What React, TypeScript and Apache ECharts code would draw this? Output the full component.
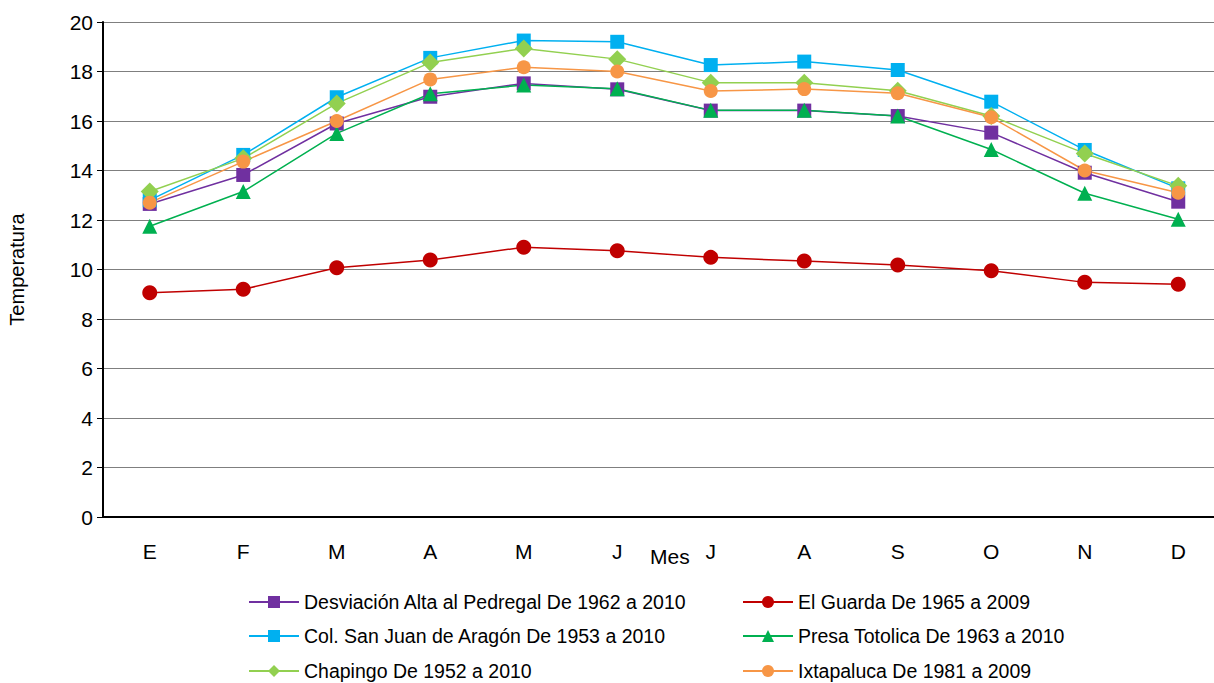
import React, { useEffect, useRef } from "react";
import * as echarts from "echarts";

const months = ["E", "F", "M", "A", "M", "J", "J", "A", "S", "O", "N", "D"];
const yTicks = [0, 2, 4, 6, 8, 10, 12, 14, 16, 18, 20];

const desviacion = [12.65, 13.82, 15.9, 16.98, 17.52, 17.28, 16.42, 16.42, 16.2, 15.53, 13.91, 12.74];
const elGuarda = [9.06, 9.2, 10.07, 10.38, 10.9, 10.76, 10.49, 10.34, 10.18, 9.95, 9.48, 9.4];
const sanJuan = [12.8, 14.63, 16.96, 18.55, 19.25, 19.2, 18.26, 18.4, 18.06, 16.78, 14.83, 13.28];
const presa = [11.75, 13.15, 15.5, 17.1, 17.45, 17.3, 16.43, 16.43, 16.2, 14.85, 13.08, 12.03];
const chapingo = [13.15, 14.49, 16.71, 18.36, 18.93, 18.5, 17.55, 17.55, 17.22, 16.2, 14.69, 13.38];
const ixtapaluca = [12.7, 14.36, 16.0, 17.68, 18.17, 18.0, 17.21, 17.29, 17.12, 16.15, 14.0, 13.1];

const names = [
  "Desviación Alta al Pedregal De 1962 a 2010",
  "El Guarda De 1965 a 2009",
  "Col. San Juan de Aragón De 1953 a 2010",
  "Presa Totolica De 1963 a 2010",
  "Chapingo De 1952 a 2010",
  "Ixtapaluca De 1981 a 2009",
];

const FONT = "'Liberation Sans', Arial, sans-serif";

export default function App() {
  const ref = useRef<HTMLDivElement>(null);
  useEffect(() => {
    if (!ref.current) return;
    const chart = echarts.init(ref.current, undefined, { renderer: "svg" });
    const mk = (name: string, data: number[], color: string, symbol: string, size: number) => ({
      name,
      type: "line",
      data,
      symbol,
      symbolSize: size,
      showAllSymbol: true,
      lineStyle: { color, width: 1.5 },
      itemStyle: { color },
      emphasis: { disabled: true },
    });
    const legendPos = [
      [248, 592],
      [742, 592],
      [248, 626],
      [742, 626],
      [248, 661],
      [742, 661],
    ];
    const legends = names.map((n, i) => ({
      orient: "horizontal",
      left: legendPos[i][0],
      top: legendPos[i][1],
      padding: 0,
      itemWidth: 50,
      itemHeight: 15,
      itemGap: 6,
      textStyle: { fontSize: 19.5, color: "#000", fontFamily: FONT },
      data: [n],
    }));
    chart.setOption({
      animation: false,
      textStyle: { fontFamily: FONT },
      grid: {
        left: 103,
        top: 22,
        width: 1122,
        height: 495,
        containLabel: false,
        outerBoundsMode: "none",
      },
      legend: legends,
      graphic: [
        {
          type: "text",
          left: 650,
          top: 546,
          style: { text: "Mes", fontSize: 21, fill: "#000", fontFamily: FONT },
        },
      ],
      xAxis: {
        type: "category",
        data: months,
        boundaryGap: true,
        axisLine: { lineStyle: { color: "#000", width: 2 } },
        axisTick: { alignWithLabel: true, length: 6, lineStyle: { color: "#000", width: 1 } },
        axisLabel: { fontSize: 21, color: "#000", margin: 24, fontFamily: FONT },
        splitLine: { show: false },
      },
      yAxis: {
        type: "value",
        min: yTicks[0],
        max: yTicks[yTicks.length - 1],
        interval: 2,
        name: "Temperatura",
        nameLocation: "middle",
        nameGap: 76,
        nameTextStyle: { fontSize: 20, color: "#000", fontFamily: FONT },
        axisLine: { show: true, lineStyle: { color: "#000", width: 2 } },
        axisTick: { show: true, length: 6, lineStyle: { color: "#000" } },
        axisLabel: { fontSize: 21, color: "#000", margin: 10, fontFamily: FONT },
        splitLine: { lineStyle: { color: "#7f7f7f", width: 1 } },
      },
      series: [
        mk(names[0], desviacion, "#7030A0", "rect", 14),
        mk(names[1], elGuarda, "#C00000", "circle", 15),
        mk(names[2], sanJuan, "#00B0F0", "rect", 14),
        mk(names[3], presa, "#00B050", "triangle", 15),
        mk(names[4], chapingo, "#92D050", "diamond", 18),
        mk(names[5], ixtapaluca, "#F79646", "circle", 14),
      ],
    });
    return () => chart.dispose();
  }, []);
  return (
    <div
      ref={ref}
      style={{ position: "absolute", left: 0, top: 0, width: 1214, height: 683, background: "#fff" }}
    />
  );
}
